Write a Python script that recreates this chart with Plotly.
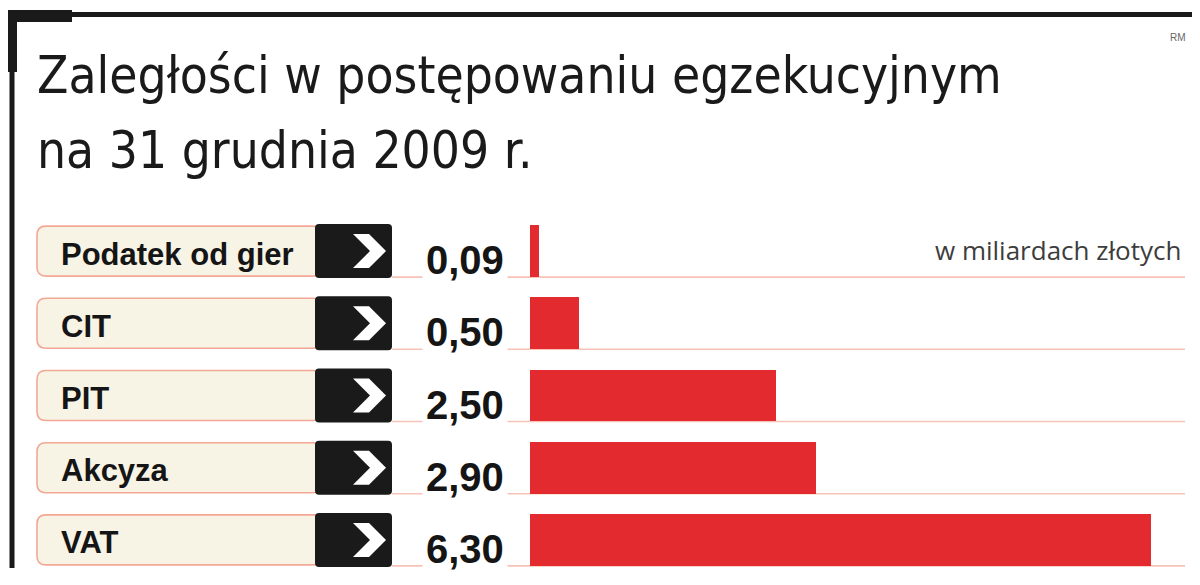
import plotly.graph_objects as go

# ---- data ----
categories = ["Podatek od gier", "CIT", "PIT", "Akcyza", "VAT"]
values = [0.09, 0.50, 2.50, 2.90, 6.30]
value_labels = ["0,09", "0,50", "2,50", "2,90", "6,30"]
title_lines = ["Zaległości w postępowaniu egzekucyjnym", "na 31 grudnia 2009 r."]
unit_note = "w miliardach złotych"
source_note = "RM"

# ---- layout geometry (reference pixels; page body has an 8px margin) ----
OFF = 8
W, H = 1200 - OFF, 585 - OFF
PLOT_X0, PLOT_X1 = 530, 1185
PLOT_Y0, PLOT_Y1 = 215, 576
L, R = PLOT_X0 - OFF, W - (PLOT_X1 - OFF)
T, B = PLOT_Y0 - OFF, H - (PLOT_Y1 - OFF)
PW, PH = PLOT_X1 - PLOT_X0, PLOT_Y1 - PLOT_Y0
PX_PER_UNIT = 98.57
ROW_PX = PH / len(categories)
BAR_FRAC = 0.72

RED = "#e32a2e"
SALMON = "#f3a896"
LINE = "#f6c3b6"
BEIGE = "#f7f3e5"
DARK = "#1b1a1a"


def px_x(px):
    return (px - PLOT_X0) / PW


def px_y(py):
    return (PLOT_Y1 - py) / PH


def dy(px):
    return px / ROW_PX


def rounded(x0, x1, y0, y1, rpx):
    rx = rpx / PW
    ry = rpx / ROW_PX
    return (f"M {x0+rx},{y0} L {x1-rx},{y0} Q {x1},{y0} {x1},{y0+ry} "
            f"L {x1},{y1-ry} Q {x1},{y1} {x1-rx},{y1} L {x0+rx},{y1} "
            f"Q {x0},{y1} {x0},{y1-ry} L {x0},{y0+ry} Q {x0},{y0} {x0+rx},{y0} Z")


fig = go.Figure()
fig.add_trace(go.Bar(
    x=values, y=list(range(len(categories))), orientation="h",
    width=BAR_FRAC, marker=dict(color=RED, line=dict(width=0)),
    hoverinfo="skip", showlegend=False,
))

shapes = []
annotations = []
half = BAR_FRAC / 2
for i, (cat, lab) in enumerate(zip(categories, value_labels)):
    shapes.append(dict(type="line", xref="paper", yref="y",
                       x0=px_x(392), x1=1.0, y0=i + half, y1=i + half,
                       line=dict(color=LINE, width=1.6), layer="below"))
    shapes.append(dict(type="path", xref="paper", yref="y",
                       path=rounded(px_x(37), px_x(322), i - half + dy(1), i + half - dy(1), 9),
                       fillcolor=BEIGE, line=dict(color=SALMON, width=1.6), layer="above"))
    shapes.append(dict(type="path", xref="paper", yref="y",
                       path=rounded(px_x(315), px_x(392), i - half - dy(1), i + half + dy(1), 4),
                       fillcolor=DARK, line=dict(width=0), layer="above"))
    cx0, cx1, cx2 = px_x(353), px_x(369), px_x(386)
    cxi = px_x(370)
    ty, my, by = i - dy(17), i, i + dy(17)
    shapes.append(dict(type="path", xref="paper", yref="y",
                       path=f"M {cx0},{ty} L {cx1},{ty} L {cx2},{my} L {cx1},{by} L {cx0},{by} L {cxi},{my} Z",
                       fillcolor="white", line=dict(width=0), layer="above"))
    annotations.append(dict(text=f"<b>{cat}</b>", xref="paper", yref="y",
                            x=px_x(59), y=i + dy(3), xanchor="left", yanchor="middle",
                            showarrow=False,
                            font=dict(family="Liberation Sans", size=31, color="#151515")))
    annotations.append(dict(text=f"<b>{lab}</b>", xref="paper", yref="y",
                            x=px_x(508), y=i + dy(9), xanchor="right", yanchor="middle",
                            showarrow=False, bgcolor="white", borderpad=3,
                            font=dict(family="Liberation Sans", size=40, color="#151515")))

# frame
shapes += [
    dict(type="line", xref="paper", yref="paper", x0=px_x(5), x1=px_x(1193),
         y0=px_y(14.5), y1=px_y(14.5), line=dict(color=DARK, width=5)),
    dict(type="rect", xref="paper", yref="paper", x0=px_x(5), x1=px_x(72),
         y0=px_y(10), y1=px_y(22), fillcolor=DARK, line=dict(width=0)),
    dict(type="rect", xref="paper", yref="paper", x0=px_x(5), x1=px_x(17),
         y0=px_y(10), y1=px_y(72), fillcolor=DARK, line=dict(width=0)),
    dict(type="line", xref="paper", yref="paper", x0=px_x(12), x1=px_x(12),
         y0=px_y(70), y1=px_y(568), line=dict(color=DARK, width=5)),
]

TITLE_FONT = dict(family="DejaVu Sans Condensed, DejaVu Sans", size=51, color="#1a1a1a")
annotations += [
    dict(text=title_lines[0], xref="paper", yref="paper", x=px_x(35), y=px_y(76),
         xanchor="left", yanchor="middle", showarrow=False, font=TITLE_FONT),
    dict(text=title_lines[1], xref="paper", yref="paper", x=px_x(35), y=px_y(151),
         xanchor="left", yanchor="middle", showarrow=False, font=TITLE_FONT),
    dict(text=unit_note, xref="paper", yref="paper", x=px_x(1183), y=px_y(250),
         xanchor="right", yanchor="middle", showarrow=False,
         font=dict(family="Open Sans", size=26, color="#3d3d3d")),
    dict(text=source_note, xref="paper", yref="paper", x=px_x(1188), y=px_y(37),
         xanchor="right", yanchor="middle", showarrow=False,
         font=dict(family="Liberation Sans", size=10, color="#666666")),
]

fig.update_layout(
    width=W, height=H,
    margin=dict(l=L, r=R, t=T, b=B, pad=0),
    paper_bgcolor="white", plot_bgcolor="white",
    xaxis=dict(range=[0, PW / PX_PER_UNIT], visible=False, fixedrange=True),
    yaxis=dict(range=[len(categories) - 0.5, -0.5], visible=False, fixedrange=True),
    shapes=shapes, annotations=annotations,
    bargap=0, showlegend=False,
)

fig.write_html("out.html", config={"displayModeBar": False})
